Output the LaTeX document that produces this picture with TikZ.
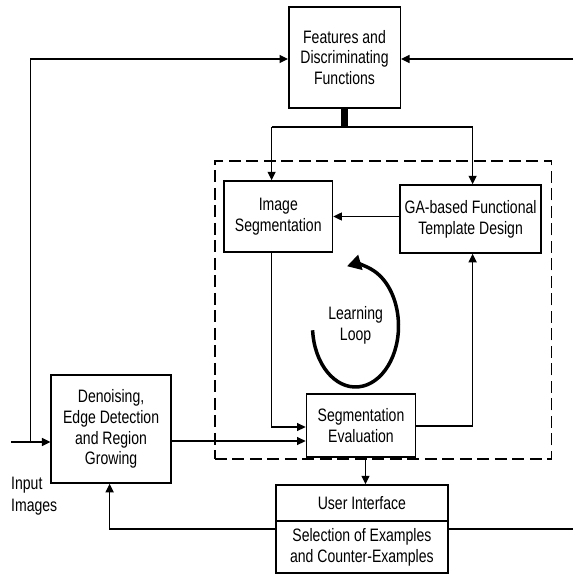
\documentclass[tikz,border=0pt]{standalone}
\usepackage{fontspec}
\setmainfont{Liberation Sans}[FakeStretch=0.78]
\usetikzlibrary{arrows.meta,calc}
\begin{document}
\begin{tikzpicture}[x=1pt,y=-1pt,
  box/.style={draw, line width=1.5pt, align=center, inner sep=0pt,
    font=\fontsize{18}{20.8}\selectfont},
  conn/.style={line width=1.2pt},
  arr/.style={conn, -{Triangle[length=8.5pt,width=8pt]}},
  frame/.style={draw, line width=1.4pt, dash pattern=on 12pt off 5.5pt, inner sep=0pt},
  lbl/.style={align=left, inner sep=0pt, font=\fontsize{18}{22}\selectfont},
  loopl/.style={align=center, inner sep=0pt, font=\fontsize{18}{21}\selectfont},
  looparrow/.style={line width=3.5pt, -{Triangle[length=14pt,width=15pt]}}]
\useasboundingbox (0,0) rectangle (573,575);
\fill[white] (0,0) rectangle (573,575);

% dashed learning-loop frame
\node[frame, minimum width=336.3pt, minimum height=298pt] (frame) at (383.05,310) {};

% boxes
\node[box, minimum width=111.5pt, minimum height=101pt] (feat) at (344.5,57.5) {Features and\\Discriminating\\Functions};
\node[box, minimum width=108.6pt, minimum height=71pt] (ims) at (278.3,216.5) {Image\\Segmentation};
\node[box, minimum width=140.8pt, minimum height=68pt] (ga) at (470.6,219) {GA-based Functional\\Template Design};
\node[box, minimum width=109.3pt, minimum height=63pt] (se) at (361,425.5) {Segmentation\\Evaluation};
\node[box, minimum width=119.8pt, minimum height=108pt] (den) at (111.1,429) {Denoising,\\Edge Detection\\and Region\\Growing};
\node[box, minimum width=171.7pt, minimum height=36pt] (ui1) at (361.9,503) {User Interface};
\node[box, minimum width=171.7pt, minimum height=52pt] (ui2) at (361.9,547) {Selection of Examples\\and Counter-Examples};

% labels
\node[lbl, anchor=west] (inimg) at (11,496) {Input\\Images};
\node[loopl] (looplbl) at (355.6,325) {Learning\\Loop};

% coordinates
\coordinate (inL) at (11,442);
\coordinate (jL) at (30.7,442);
\coordinate (tR) at (573,59);
\coordinate (split) at (344.5,127);
\coordinate (sL) at (271.6,127);
\coordinate (sR) at (472.6,127);
\coordinate (seDown) at (365.5,0);
\coordinate (uiL) at (109.6,529);
\coordinate (uiR) at (573,529);
\coordinate (loopStart) at ($(355.5,326)+({43*cos(176)},{61*sin(176)})$);

% connectors
\draw[arr] (inL) -- (den.west |- inL);
\draw[arr] (jL) |- (feat.west |- tR);
\draw[arr] (tR) -- (feat.east |- tR);
\draw[line width=7pt] (feat.south) -- (split);
\draw[conn] (sL) -- (sR);
\draw[arr] (sL) -- (ims.north -| sL);
\draw[arr] (sR) -- (ga.north -| sR);
\draw[arr] (ga.west |- ims.east) -- (ims.east);
\draw[arr] (ims.south -| sL) |- ($(se.west)+(0,1.5)$);
\draw[arr] ($(den.east)+(0,12)$) -- ($(se.west)+(0,15.5)$);
\draw[arr] ($(se.east)+(0,0.5)$) -| (ga.south -| sR);
\draw[arr] (se.south -| seDown) -- (ui1.north -| seDown);
\draw[arr] (ui2.west |- uiL) -| (den.south -| uiL);
\draw[conn] (ui2.east |- uiR) -- (uiR);

% learning loop arrow
\draw[looparrow] (loopStart) arc[start angle=176, end angle=-101.5, x radius=43, y radius=61];
\end{tikzpicture}
\end{document}
